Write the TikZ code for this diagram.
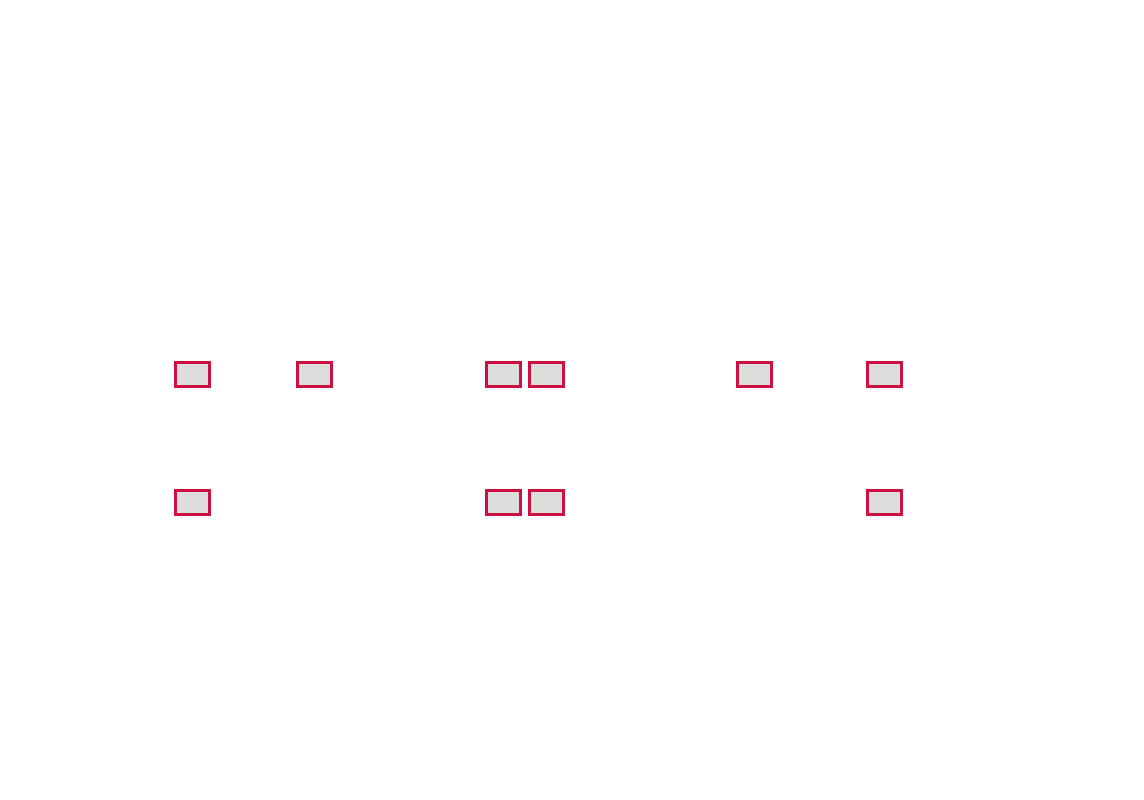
\documentclass[tikz,border=0pt]{standalone}
\definecolor{boxred}{RGB}{204,16,64}
\definecolor{boxfill}{RGB}{221,221,221}
\begin{document}
\begin{tikzpicture}[x=1pt,y=-1pt,
  cell/.style={draw=boxred,fill=boxfill,line width=2.8pt,minimum width=34pt,minimum height=23.5pt,inner sep=0pt}]
\useasboundingbox (0,0) rectangle (1144,800);
\node[cell] (a1) at (192.5,374.5) {};
\node[cell] (a2) at (314.5,374.5) {};
\node[cell] (b1) at (503.5,374.5) {};
\node[cell] (b2) at (546.5,374.5) {};
\node[cell] (c1) at (754.5,374.5) {};
\node[cell] (c2) at (884.5,374.5) {};
\node[cell] (d1) at (192.5,502.5) {};
\node[cell] (e1) at (503.5,502.5) {};
\node[cell] (e2) at (546.5,502.5) {};
\node[cell] (f2) at (884.5,502.5) {};
\end{tikzpicture}
\end{document}
